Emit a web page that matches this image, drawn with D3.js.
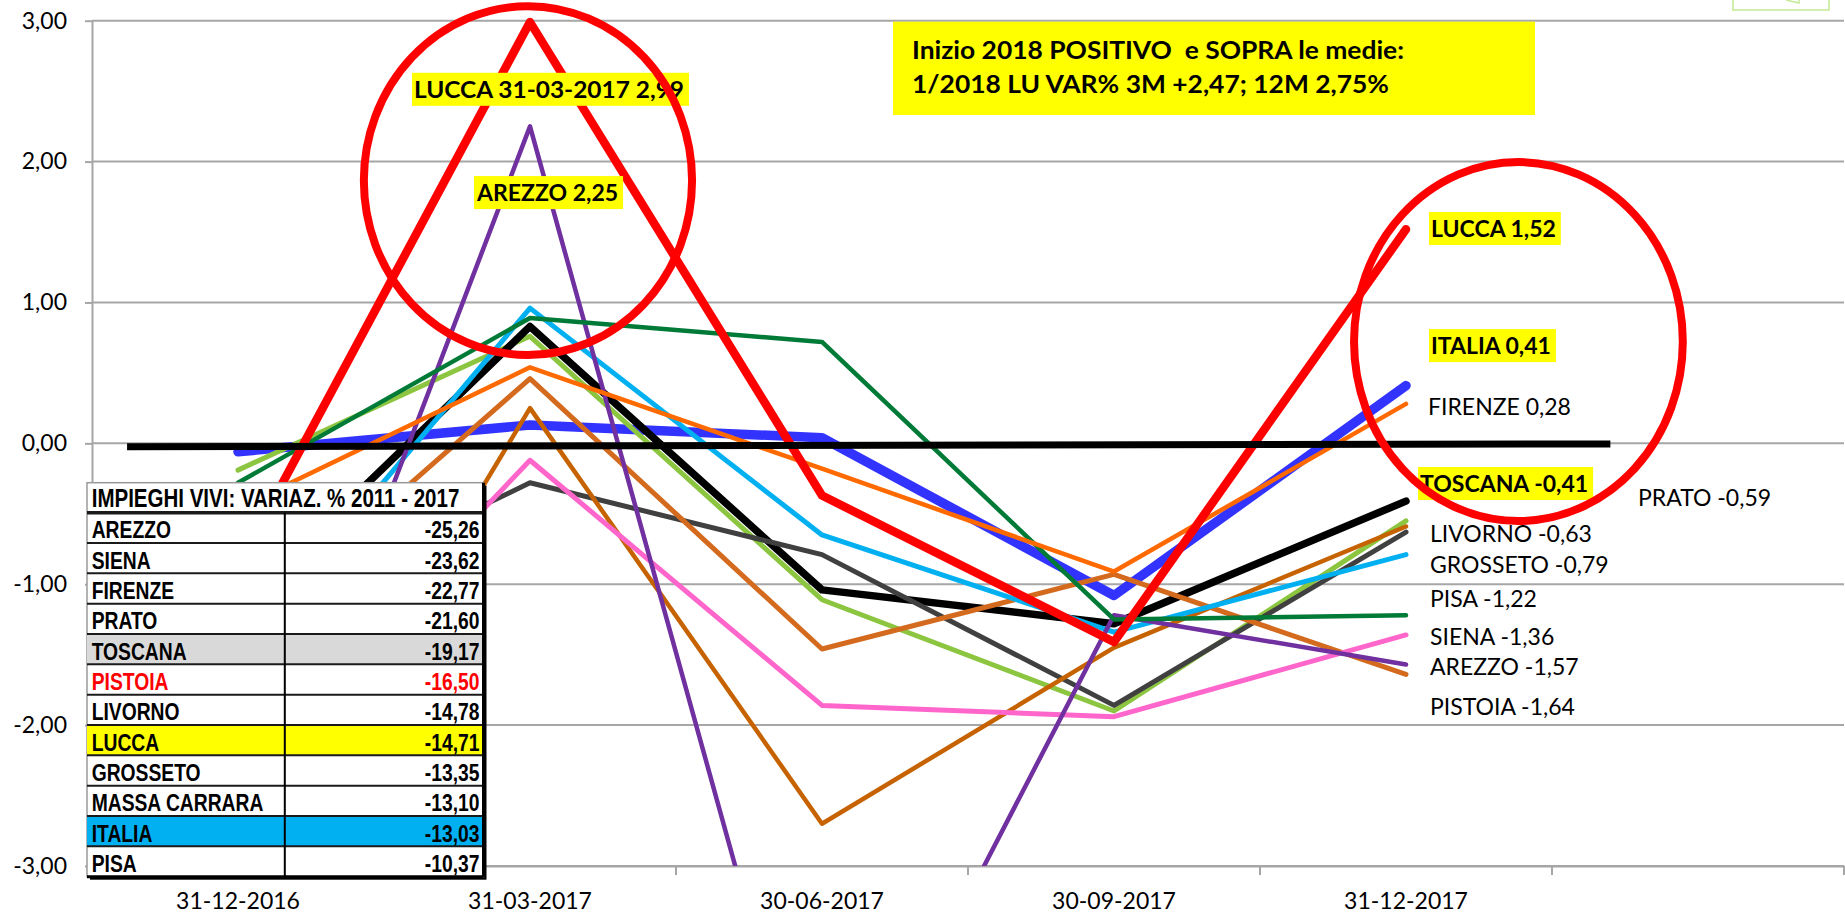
<!DOCTYPE html>
<html>
<head>
<meta charset="utf-8">
<script src="https://cdn.jsdelivr.net/npm/d3@7/dist/d3.min.js"></script>
<style>
  html, body { margin: 0; padding: 0; background: #fff; }
  svg { display: block; font-family: Lato, "Open Sans", sans-serif; }
</style>
</head>
<body>
<svg id="chart" width="1845" height="913"></svg>
<script>
// categories on the x axis (last slot is empty, as in the sheet)
const categories = ['31-12-2016', '31-03-2017', '30-06-2017', '30-09-2017', '31-12-2017', ''];
const yTicks = [-3, -2, -1, 0, 1, 2, 3];

// quarterly var% per area
const italia       = [-0.06, 0.13, 0.04, -1.08, 0.41];
const toscana      = [-1.17, 0.83, -1.04, -1.28, -0.41];
const massaCarrara = [-0.19, 0.76, -1.11, -1.90, -0.55];
const livorno      = [-1.28, -0.28, -0.79, -1.86, -0.63];
const prato        = [-3.20, 0.25, -2.70, -1.45, -0.59];
const pistoia      = [-1.36, 0.46, -1.46, -0.93, -1.64];
const grosseto     = [-1.50, 0.96, -0.65, -1.34, -0.79];
const siena        = [-2.30, -0.12, -1.86, -1.94, -1.36];
const arezzo       = [-3.18, 2.25, -5.22, -1.22, -1.57];
const pisa         = [-0.28, 0.89, 0.72, -1.25, -1.22];
const firenze      = [-0.46, 0.54, -0.18, -0.91, 0.28];
const lucca        = [-0.87, 2.99, -0.37, -1.41, 1.52];

// hand drawn black reference line (category index, value)
const refLineCats = [-0.38, 4.70];
const refLineValues = [-0.025, -0.004];

// table: impieghi vivi 2011-2017
const tableTitle = 'IMPIEGHI VIVI: VARIAZ. % 2011 - 2017';
const tableNames = ['AREZZO', 'SIENA', 'FIRENZE', 'PRATO', 'TOSCANA', 'PISTOIA', 'LIVORNO', 'LUCCA', 'GROSSETO', 'MASSA CARRARA', 'ITALIA', 'PISA'];
const tableValues = [-25.26, -23.62, -22.77, -21.60, -19.17, -16.50, -14.78, -14.71, -13.35, -13.10, -13.03, -10.37];

const noteLines = ['Inizio 2018 POSITIVO  e SOPRA le medie:', '1/2018 LU VAR% 3M +2,47; 12M 2,75%'];

const svg = d3.select('#chart');
const plotLeft = 92, plotRight = 1844, plotTop = 20.7, plotBottom = 866;

const x = d3.scaleBand().domain(categories).range([plotLeft, plotRight]);
const y = d3.scaleLinear().domain([-3, 3]).range([plotBottom, plotTop]);
const catX = i => x(categories[0]) + x.step() * (i + 0.5);
const fmt = v => v.toFixed(2).replace('.', ',');

// grid
svg.append('g')
  .selectAll('line')
  .data(yTicks)
  .join('line')
  .attr('x1', plotLeft).attr('x2', plotRight)
  .attr('y1', d => y(d)).attr('y2', d => y(d))
  .attr('stroke', '#a6a6a6')
  .attr('stroke-width', 2);

// y axis
const yAxis = svg.append('g')
  .attr('transform', `translate(${plotLeft},0)`)
  .call(d3.axisLeft(y).tickValues(yTicks).tickSize(7).tickSizeOuter(0).tickPadding(18).tickFormat(fmt));
yAxis.select('.domain').attr('stroke', '#a6a6a6').attr('stroke-width', 2);
yAxis.selectAll('.tick line').attr('stroke', '#a6a6a6').attr('stroke-width', 2);
yAxis.selectAll('text').attr('font-size', 23).attr('font-family', 'Lato').attr('fill', '#000');

// x axis
const xAxis = svg.append('g')
  .attr('transform', `translate(0,${plotBottom})`)
  .call(d3.axisBottom(x).tickSize(0).tickSizeOuter(0).tickPadding(27));
xAxis.select('.domain').attr('stroke', '#a6a6a6').attr('stroke-width', 2);
xAxis.selectAll('text').attr('font-size', 23).attr('font-family', 'Lato').attr('fill', '#000');
xAxis.selectAll('.bound')
  .data(d3.range(categories.length + 1))
  .join('line')
  .attr('class', 'bound')
  .attr('x1', i => x(categories[0]) + i * x.step())
  .attr('x2', i => x(categories[0]) + i * x.step())
  .attr('y1', 0).attr('y2', 9)
  .attr('stroke', '#a6a6a6')
  .attr('stroke-width', 2);

// series
svg.append('clipPath').attr('id', 'plotClip')
  .append('rect')
  .attr('x', plotLeft).attr('y', 0)
  .attr('width', plotRight - plotLeft).attr('height', plotBottom);

const series = [
  {values: italia, color: '#3333ff', width: 9.5},
  {values: massaCarrara, color: '#8cc540', width: 5},
  {values: toscana, color: '#000000', width: 7.5},
  {values: livorno, color: '#404040', width: 5},
  {values: prato, color: '#c66300', width: 4.5},
  {values: pistoia, color: '#d46a1e', width: 5},
  {values: grosseto, color: '#00b0f0', width: 5},
  {values: siena, color: '#ff66cc', width: 5},
  {values: arezzo, color: '#7030a0', width: 4.5},
  {values: pisa, color: '#007a37', width: 4.5},
  {values: firenze, color: '#ff6a00', width: 4.5},
  {values: lucca, color: '#ff0000', width: 8.5}
];

const line = d3.line().x((d, i) => catX(i)).y(d => y(d));

svg.append('g')
  .attr('clip-path', 'url(#plotClip)')
  .selectAll('path')
  .data(series)
  .join('path')
  .attr('d', d => line(d.values))
  .attr('fill', 'none')
  .attr('stroke', d => d.color)
  .attr('stroke-width', d => d.width)
  .attr('stroke-linejoin', 'round')
  .attr('stroke-linecap', 'round');

// reference line
svg.append('line')
  .attr('x1', catX(refLineCats[0])).attr('x2', catX(refLineCats[1]))
  .attr('y1', y(refLineValues[0])).attr('y2', y(refLineValues[1]))
  .attr('stroke', '#000')
  .attr('stroke-width', 7);

// value labels
const labels = [
  {text: 'LUCCA 31-03-2017 2,99', cat: 1, dx: -116, v: 2.513, bold: true, w: 270},
  {text: 'AREZZO 2,25', cat: 1, dx: -53, v: 1.78, bold: true},
  {text: 'LUCCA 1,52', cat: 4, dx: 25, v: 1.525, bold: true},
  {text: 'ITALIA 0,41', cat: 4, dx: 25, v: 0.694, bold: true},
  {text: 'FIRENZE 0,28', cat: 4, dx: 22, v: 0.258},
  {text: 'TOSCANA -0,41', cat: 4, dx: 14, v: -0.285, bold: true},
  {text: 'PRATO -0,59', cat: 4, dx: 232, v: -0.388},
  {text: 'LIVORNO -0,63', cat: 4, dx: 24, v: -0.644},
  {text: 'GROSSETO -0,79', cat: 4, dx: 24, v: -0.864},
  {text: 'PISA -1,22', cat: 4, dx: 24, v: -1.105},
  {text: 'SIENA -1,36', cat: 4, dx: 24, v: -1.373},
  {text: 'AREZZO -1,57', cat: 4, dx: 24, v: -1.586},
  {text: 'PISTOIA -1,64', cat: 4, dx: 24, v: -1.869}
];

const lab = svg.append('g')
  .selectAll('g')
  .data(labels)
  .join('g')
  .attr('transform', d => `translate(${catX(d.cat) + d.dx},${y(d.v)})`);

lab.append('text')
  .attr('dy', '0.36em')
  .attr('font-size', 23)
  .attr('font-weight', d => d.bold ? 700 : 400)
  .attr('fill', '#000')
  .text(d => d.text)
  .each(function(d) {
    if (d.w) d3.select(this).attr('textLength', d.w).attr('lengthAdjust', 'spacingAndGlyphs');
  });

lab.filter(d => d.bold).insert('rect', 'text')
  .each(function(d) {
    const bb = this.parentNode.querySelector('text').getBBox();
    const w = d.w || bb.width;
    d3.select(this)
      .attr('x', bb.x - 2).attr('y', -16.5)
      .attr('width', w + 7).attr('height', 33)
      .attr('fill', '#ffff00');
  });

// red circles
const ellipses = [
  {cat: 0.993, v: 1.865, rc: 0.562, rv: 1.238},
  {cat: 4.385, v: 0.7225, rc: 0.563, rv: 1.274}
];
svg.append('g')
  .selectAll('ellipse')
  .data(ellipses)
  .join('ellipse')
  .attr('cx', d => catX(d.cat))
  .attr('cy', d => y(d.v))
  .attr('rx', d => d.rc * x.step())
  .attr('ry', d => y(0) - y(d.rv))
  .attr('fill', 'none')
  .attr('stroke', '#ff0000')
  .attr('stroke-width', 8);

// note box
const note = svg.append('g');
note.append('rect')
  .attr('x', 893).attr('y', 21.7)
  .attr('width', 642).attr('height', 93.3)
  .attr('fill', '#ffff00');
note.selectAll('text')
  .data(noteLines)
  .join('text')
  .attr('x', 912)
  .attr('y', (d, i) => 58.5 + i * 34.5)
  .attr('font-size', 25)
  .attr('font-weight', 700)
  .attr('fill', '#000')
  .style('white-space', 'pre')
  .attr('textLength', (d, i) => i === 0 ? 492 : 477)
  .attr('lengthAdjust', 'spacingAndGlyphs')
  .text(d => d);

// small leftover shape top right
svg.append('rect')
  .attr('x', 1733).attr('y', -3).attr('width', 96).attr('height', 13)
  .attr('fill', 'none').attr('stroke', '#c4ea94').attr('stroke-width', 1.5);
svg.append('polyline')
  .attr('points', '1786,0 1799,3 1799,0')
  .attr('fill', 'none').attr('stroke', '#c4ea94').attr('stroke-width', 1.5);

// table
const tLeft = 87, tRight = 483.5, tTop = 482.7, tHead = 512.7, tBottom = 876.7, tCol = 284.8;
const rows = d3.scaleBand().domain(tableNames).range([tHead, tBottom]);
const rowFill = {TOSCANA: '#d9d9d9', LUCCA: '#ffff00', ITALIA: '#00b0f0'};

const table = svg.append('g').attr('font-family', '"Liberation Sans Narrow", "Liberation Sans", Arial, sans-serif');
table.append('rect')
  .attr('x', tLeft + 3).attr('y', tTop + 3)
  .attr('width', tRight - tLeft).attr('height', tBottom - tTop)
  .attr('fill', '#000');
table.append('rect')
  .attr('x', tLeft).attr('y', tTop)
  .attr('width', tRight - tLeft).attr('height', tBottom - tTop)
  .attr('fill', '#fff')
  .attr('stroke', '#9a9a9a').attr('stroke-width', 1.5);

table.selectAll('.fill')
  .data(tableNames.filter(n => rowFill[n]))
  .join('rect')
  .attr('class', 'fill')
  .attr('x', tLeft).attr('y', d => rows(d))
  .attr('width', tRight - tLeft).attr('height', rows.bandwidth())
  .attr('fill', d => rowFill[d]);

table.selectAll('.hline')
  .data(tableNames)
  .join('line')
  .attr('class', 'hline')
  .attr('x1', tLeft).attr('x2', tRight)
  .attr('y1', d => rows(d)).attr('y2', d => rows(d))
  .attr('stroke', '#1a1a1a')
  .attr('stroke-width', (d, i) => i === 0 ? 3.5 : 2);

table.append('line')
  .attr('x1', tCol).attr('x2', tCol)
  .attr('y1', tHead).attr('y2', tBottom)
  .attr('stroke', '#000').attr('stroke-width', 2);
table.append('line')
  .attr('x1', tRight).attr('x2', tRight)
  .attr('y1', tTop).attr('y2', tBottom)
  .attr('stroke', '#000').attr('stroke-width', 3);
table.append('line')
  .attr('x1', tLeft).attr('x2', tRight)
  .attr('y1', tBottom).attr('y2', tBottom)
  .attr('stroke', '#000').attr('stroke-width', 3);

function squeeze(sel, k) {
  sel.each(function() {
    const w = this.getComputedTextLength();
    d3.select(this).attr('textLength', w * k).attr('lengthAdjust', 'spacingAndGlyphs');
  });
}

table.append('text')
  .attr('x', tLeft + 4.7).attr('y', tTop + 24.5)
  .attr('font-size', 25).attr('font-weight', 700).attr('fill', '#000')
  .text(tableTitle)
  .call(squeeze, 0.82);

table.selectAll('.name')
  .data(tableNames)
  .join('text')
  .attr('class', 'name')
  .attr('x', tLeft + 4.7)
  .attr('y', d => rows(d) + 25.5)
  .attr('font-size', 23.5).attr('font-weight', 700)
  .attr('fill', d => d === 'PISTOIA' ? '#ff0000' : '#000')
  .text(d => d)
  .call(squeeze, 0.82);

table.selectAll('.val')
  .data(tableValues)
  .join('text')
  .attr('class', 'val')
  .attr('x', tRight - 4)
  .attr('y', (d, i) => rows(tableNames[i]) + 25.5)
  .attr('text-anchor', 'end')
  .attr('font-size', 23.5).attr('font-weight', 700)
  .attr('fill', (d, i) => tableNames[i] === 'PISTOIA' ? '#ff0000' : '#000')
  .text(fmt)
  .call(squeeze, 0.82);
</script>
</body>
</html>
